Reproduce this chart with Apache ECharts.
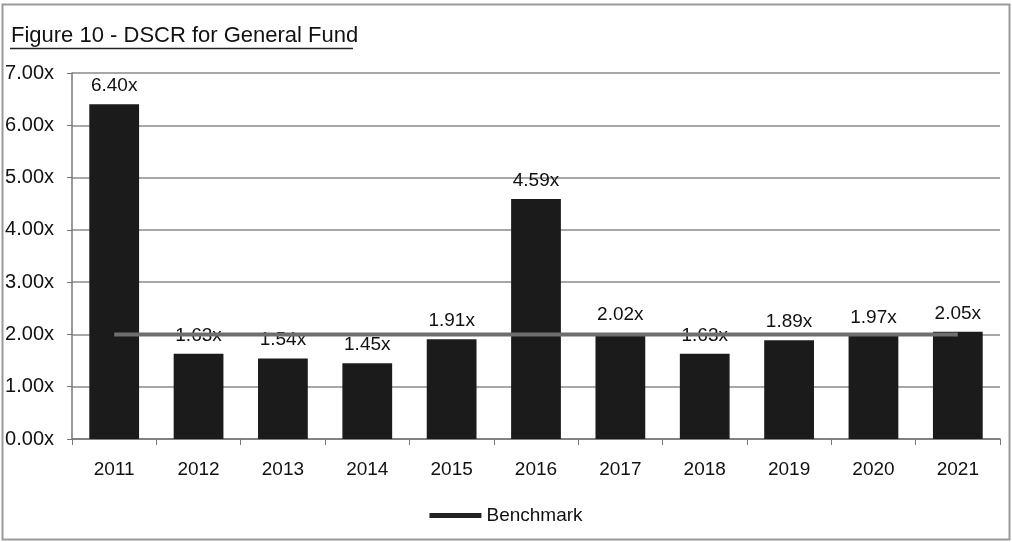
<!DOCTYPE html>
<html>
<head>
<meta charset="utf-8">
<script src="https://cdn.jsdelivr.net/npm/echarts@6/dist/echarts.min.js"></script>
<style>
  html, body { margin: 0; padding: 0; background: #fff; }
  #chart { width: 1012px; height: 542px; }
</style>
</head>
<body>
<div id="chart"></div>
<script>
// Debt service coverage ratio, General Fund, by fiscal year
const years = ['2011', '2012', '2013', '2014', '2015', '2016', '2017', '2018', '2019', '2020', '2021'];
const dscr = [6.40, 1.63, 1.54, 1.45, 1.91, 4.59, 2.02, 1.63, 1.89, 1.97, 2.05];
const benchmark = [2.00, 2.00, 2.00, 2.00, 2.00, 2.00, 2.00, 2.00, 2.00, 2.00, 2.00];
const titleText = 'Figure 10 - DSCR for General Fund';

const FONT = "'Liberation Sans Narrow', 'Liberation Sans', Arial, sans-serif";

const chart = echarts.init(document.getElementById('chart'), null, { renderer: 'canvas' });

chart.setOption({
  animation: false,
  backgroundColor: '#ffffff',
  textStyle: { fontFamily: FONT },
  title: {
    text: titleText,
    left: 6,
    top: 20,
    textStyle: { fontFamily: FONT, fontSize: 22, fontWeight: 'normal', color: '#111' }
  },
  graphic: [
    // frame around the figure
    { type: 'rect', shape: { x: 2.5, y: 4.5, width: 1007, height: 535 },
      style: { fill: 'none', stroke: '#9a9a9a', lineWidth: 2 }, silent: true },
    // title underline
    { type: 'line', shape: { x1: 10, y1: 48.5, x2: 353, y2: 48.5 },
      style: { stroke: '#222', lineWidth: 1.5 }, silent: true }
  ],
  legend: {
    bottom: 12,
    left: 'center',
    itemWidth: 52,
    itemHeight: 5,
    itemGap: 4,
    data: [{ name: 'Benchmark', icon: 'rect', itemStyle: { color: '#222' } }],
    textStyle: { fontFamily: FONT, fontSize: 19, color: '#111' }
  },
  grid: { left: 72, right: 12, top: 73, bottom: 103, containLabel: false },
  xAxis: {
    type: 'category',
    data: years,
    axisLine: { lineStyle: { color: '#777', width: 1.5 } },
    axisTick: { show: true, alignWithLabel: false, length: 6, lineStyle: { color: '#777' } },
    axisLabel: { fontFamily: FONT, fontSize: 19, color: '#111', margin: 21 }
  },
  yAxis: {
    type: 'value',
    min: 0,
    max: 7,
    interval: 1,
    axisLine: { show: true, lineStyle: { color: '#777', width: 1.5 } },
    axisTick: { show: true, inside: false, length: 5, lineStyle: { color: '#777' } },
    axisLabel: {
      fontFamily: FONT, fontSize: 20, color: '#111', margin: 18,
      formatter: v => v.toFixed(2) + 'x'
    },
    splitLine: { lineStyle: { color: '#8a8a8a', width: 1.5 } }
  },
  series: [
    {
      name: 'DSCR',
      type: 'bar',
      data: dscr,
      barWidth: '59%',
      itemStyle: { color: '#1b1b1b' },
      label: {
        show: true,
        position: 'top',
        distance: 9,
        fontFamily: FONT,
        fontSize: 19,
        color: '#111',
        formatter: p => p.value.toFixed(2) + 'x'
      },
      z: 2
    },
    {
      name: 'Benchmark',
      type: 'line',
      data: benchmark,
      symbol: 'none',
      lineStyle: { color: '#6e6e6e', width: 4 },
      itemStyle: { color: '#222' },
      z: 3
    }
  ]
});
</script>
</body>
</html>
